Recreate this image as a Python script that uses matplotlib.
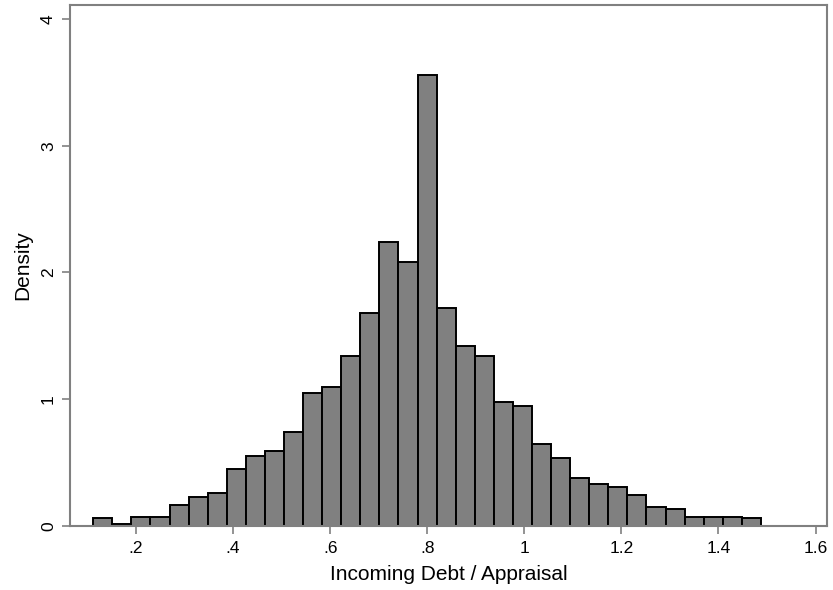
import numpy as np
import matplotlib
matplotlib.use("Agg")
import matplotlib.pyplot as plt

plt.rcParams['font.family'] = ['Liberation Sans', 'DejaVu Sans']

# histogram: 35 bins starting at 0.112, width ~0.0393
bin_start = 0.112
bin_width = 0.0393
density = [0.065, 0.014, 0.070, 0.070, 0.165, 0.226, 0.257, 0.446, 0.551, 0.590,
           0.738, 1.053, 1.097, 1.339, 1.683, 2.239, 2.080, 3.560, 1.720, 1.417,
           1.344, 0.979, 0.947, 0.643, 0.538, 0.376, 0.328, 0.305, 0.247, 0.152,
           0.131, 0.073, 0.073, 0.073, 0.061]

x_ticks = [0.2, 0.4, 0.6, 0.8, 1.0, 1.2, 1.4, 1.6]
x_labels = ['.2', '.4', '.6', '.8', '1', '1.2', '1.4', '1.6']
y_ticks = [0, 1, 2, 3, 4]

lefts = bin_start + bin_width * np.arange(len(density))

fig = plt.figure(figsize=(8.33, 5.90), dpi=100)
ax = fig.add_axes([0.084, 0.1085, 0.9084, 0.883])

ax.bar(lefts, density, width=bin_width, align='edge', color='#808080',
       edgecolor='black', linewidth=1.4)

ax.set_xlim(0.064, 1.623)
ax.set_ylim(0, 4.11)
ax.set_xticks(x_ticks)
ax.set_xticklabels(x_labels)
ax.set_yticks(y_ticks)
ax.set_yticklabels([str(v) for v in y_ticks], rotation=90, va='center')

for s in ax.spines.values():
    s.set_color('#808080')
    s.set_linewidth(1.5)
ax.tick_params(axis='both', colors='#808080', length=6, width=1.2,
               labelcolor='black', labelsize=12.5)
ax.tick_params(axis='x', pad=5)
ax.tick_params(axis='y', pad=4)

ax.set_xlabel('Incoming Debt / Appraisal', fontsize=15, labelpad=6)
ax.set_ylabel('Density', fontsize=15, labelpad=6)

fig.savefig('out.png', dpi=100)
